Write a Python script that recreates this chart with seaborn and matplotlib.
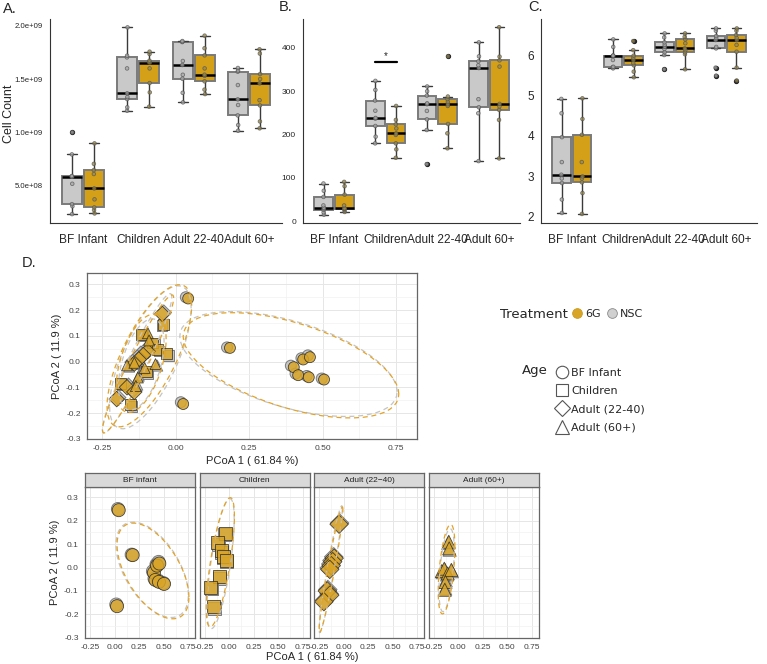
import numpy as np
import pandas as pd
import matplotlib
matplotlib.use('Agg')
import matplotlib.pyplot as plt
import seaborn as sns
from matplotlib.lines import Line2D
from matplotlib.ticker import FixedLocator, MultipleLocator

W, H = 767, 664

ages = ['BF Infant', 'Children', 'Adult 22-40', 'Adult 60+']
treatments = ['NSC', '6G']

# panel A: cell count (x 1e9), one list per age group
cell_nsc = [[0.226, 0.30, 0.320, 0.512, 0.578, 0.58, 0.585, 0.789, 0.997],
            [1.201, 1.233, 1.311, 1.33, 1.365, 1.60, 1.704, 1.72, 1.987],
            [1.280, 1.37, 1.503, 1.54, 1.632, 1.67, 1.849, 1.85, 1.858],
            [1.012, 1.066, 1.157, 1.255, 1.308, 1.443, 1.569, 1.58, 1.604]]
cell_6g = [[0.232, 0.264, 0.289, 0.365, 0.468, 0.604, 0.641, 0.70, 0.893],
           [1.239, 1.374, 1.462, 1.60, 1.654, 1.66, 1.673, 1.736, 1.758],
           [1.358, 1.40, 1.478, 1.53, 1.541, 1.60, 1.723, 1.79, 1.909],
           [1.035, 1.10, 1.251, 1.30, 1.459, 1.50, 1.547, 1.74, 1.78]]

# panel B
rich_nsc = [[14.7, 20, 26.3, 29, 31, 36, 55.7, 70, 86.7],
            [179.5, 195, 219.7, 236.8, 238.3, 255, 278.5, 303, 324],
            [131.5, 210.4, 235, 254.5, 270, 272, 290, 300, 311],
            [138.5, 249, 263, 281.6, 353.6, 360, 369, 380.7, 413]]
rich_6g = [[20.9, 25, 27.9, 28.5, 29.4, 36, 61, 80.5, 90.5],
           [146.2, 165.6, 179.5, 199, 202.7, 214, 223.6, 233.7, 266],
           [168, 202.7, 224.4, 266, 270, 275, 281.6, 287.8, 380.7],
           [144.7, 233.7, 256.9, 265, 270.8, 357, 371.4, 380, 448]]
sig_group = 'Children'
sig_y = 367

# panel C
div_nsc = [[2.098, 2.43, 2.838, 2.95, 3.043, 3.355, 3.971, 4.56, 4.916],
           [5.67, 5.70, 5.71, 5.877, 5.984, 5.984, 5.984, 6.2, 6.386],
           [5.647, 6.0, 6.066, 6.15, 6.205, 6.25, 6.312, 6.435, 6.534],
           [5.49, 5.688, 6.164, 6.2, 6.37, 6.42, 6.47, 6.6, 6.657]]
div_6g = [[2.074, 2.59, 2.854, 2.95, 3.0, 3.355, 4.029, 4.42, 4.93],
          [5.45, 5.59, 5.745, 5.8, 5.877, 5.93, 5.984, 6.12, 6.345],
          [5.647, 6.02, 6.066, 6.12, 6.164, 6.29, 6.386, 6.45, 6.534],
          [5.37, 5.688, 6.082, 6.25, 6.37, 6.42, 6.493, 6.6, 6.657]]

# panel D: PCoA coordinates
pc_groups = ['BF infant', 'Children', 'Adult (22\u221240)', 'Adult (60+)']
pc_6g = [[(0.043, 0.245), (0.185, 0.053), (0.402, -0.022), (0.434, 0.008), (0.457, 0.017),
          (0.417, -0.053), (0.453, -0.061), (0.505, -0.070), (0.026, -0.165)],
         [(-0.040, 0.145), (-0.117, 0.106), (-0.078, 0.072), (-0.061, 0.048), (-0.030, 0.030),
          (-0.098, -0.037), (-0.186, -0.085), (-0.154, -0.168)],
         [(-0.045, 0.185), (-0.095, 0.040), (-0.110, 0.025), (-0.125, 0.008), (-0.140, -0.008),
          (-0.165, -0.100), (-0.140, -0.118), (-0.200, -0.146)],
         [(-0.094, 0.110), (-0.090, 0.082), (-0.165, -0.015), (-0.140, -0.005), (-0.105, -0.025),
          (-0.068, -0.010), (-0.128, -0.062), (-0.135, -0.095)]]
pc_nsc = [[(0.035, 0.250), (0.175, 0.055), (0.392, -0.016), (0.428, 0.013), (0.450, 0.024),
           (0.408, -0.047), (0.446, -0.056), (0.497, -0.066), (0.018, -0.158)],
          [(-0.046, 0.140), (-0.112, 0.100), (-0.072, 0.066), (-0.056, 0.041), (-0.025, 0.024),
           (-0.094, -0.045), (-0.180, -0.090), (-0.148, -0.174)],
          [(-0.040, 0.190), (-0.100, 0.046), (-0.118, 0.030), (-0.130, 0.015), (-0.146, -0.002),
           (-0.160, -0.094), (-0.146, -0.112), (-0.195, -0.140)],
          [(-0.100, 0.105), (-0.085, 0.076), (-0.158, -0.020), (-0.133, -0.010), (-0.112, -0.030),
           (-0.062, -0.016), (-0.125, -0.055), (-0.130, -0.090)]]
legend_ages = ['BF Infant', 'Children', 'Adult (22-40)', 'Adult (60+)']

GOLD = '#D4A017'
GREY = '#C9C9C9'
PT_GOLD = '#D9A527'
PT_GREY = '#BDBDBD'
EL_GOLD = '#E3A32A'
EL_GREY = '#C4C4C4'
markers = {g: m for g, m in zip(pc_groups, ['o', 's', 'D', '^'])}

sns.set_style('white')
plt.rcParams['font.family'] = ['Liberation Sans', 'DejaVu Sans']


def px_axes(fig, l, t, r, b):
    return fig.add_axes([l / W, 1 - b / H, (r - l) / W, (b - t) / H])


def long_box(nsc, g6, scale=1.0):
    rows = []
    for trt, groups in (('NSC', nsc), ('6G', g6)):
        for age, vals in zip(ages, groups):
            for v in vals:
                rows.append((age, trt, v * scale))
    return pd.DataFrame(rows, columns=['Age', 'Treatment', 'value'])


def trob(xy, nu=5, maxit=25, tol=0.01):
    # robust t covariance (like MASS::cov.trob)
    n, p = xy.shape
    loc = xy.mean(axis=0)
    w = np.ones(n)
    for _ in range(maxit):
        w0 = w
        X = xy - loc
        S = (X * (w / w.sum())[:, None]).T @ X
        Q = np.einsum('ij,jk,ik->i', X, np.linalg.inv(S), X)
        w = (nu + p) / (nu + Q)
        loc = (w[:, None] * xy).sum(axis=0) / w.sum()
        if np.all(np.abs(w - w0) < tol):
            break
    cov = (X * w[:, None]).T @ X / n
    return loc, cov


def ellipse(xy, level=0.95, segments=60):
    n = len(xy)
    center, cov = trob(xy)
    dfd = n - 1
    fq = dfd / 2 * ((1 - level) ** (-2 / dfd) - 1)
    radius = np.sqrt(2 * fq)
    ang = np.linspace(0, 2 * np.pi, segments + 1)
    circ = np.column_stack([np.cos(ang), np.sin(ang)])
    L = np.linalg.cholesky(cov)
    return center + radius * circ @ L.T


def box_panel(ax, df):
    sns.boxplot(data=df, x='Age', y='value', hue='Treatment', order=ages,
                hue_order=treatments, palette={'NSC': GREY, '6G': GOLD}, saturation=1,
                width=0.8, gap=0.1, linewidth=1.0, linecolor='#3a3a3a',
                boxprops=dict(edgecolor='#7a7a7a', linewidth=1.4),
                medianprops=dict(color='black', linewidth=1.8),
                flierprops=dict(marker='o', markersize=2.8, markerfacecolor='#222222',
                                markeredgecolor='#222222'),
                legend=False, ax=ax)
    sns.stripplot(data=df, x='Age', y='value', hue='Treatment', order=ages,
                  hue_order=treatments, palette={'NSC': '#a8a8a8', '6G': '#9a8a4a'},
                  dodge=True, jitter=0.015, size=2.6, linewidth=0.6, edgecolor='#555555',
                  alpha=0.75, legend=False, ax=ax)
    ax.set_xlabel('')
    ax.set_ylabel('')
    ax.set_xlim(-0.6, 3.6)
    for s in ('top', 'right'):
        ax.spines[s].set_visible(False)
    for s in ('left', 'bottom'):
        ax.spines[s].set_color('#333333')
        ax.spines[s].set_linewidth(0.8)
    ax.tick_params(axis='x', labelsize=8.6, length=3, width=0.6, color='#333333', pad=5)
    ax.tick_params(axis='y', length=3, width=0.6, color='#333333', pad=2)


fig = plt.figure(figsize=(W / 100, H / 100), dpi=100)

# ---- A
axA = px_axes(fig, 50, 19, 282, 223)
box_panel(axA, long_box(cell_nsc, cell_6g, 1e9))
axA.set_ylim(1.42e8, 2.066e9)
axA.yaxis.set_major_locator(FixedLocator([5e8, 1e9, 1.5e9, 2e9]))
axA.set_yticklabels(['5.0e+08', '1.0e+09', '1.5e+09', '2.0e+09'])
axA.tick_params(axis='y', labelsize=5.6)
fig.text(9 / W, 1 - 114 / H, 'Cell Count', rotation=90, fontsize=9, ha='center', va='center')

# ---- B
axB = px_axes(fig, 303, 19, 520, 223)
box_panel(axB, long_box(rich_nsc, rich_6g))
axB.set_ylim(-4.6, 467)
axB.yaxis.set_major_locator(FixedLocator([0, 100, 200, 300, 400]))
axB.tick_params(axis='y', labelsize=6)
i = ages.index(sig_group)
axB.plot([i - 0.21, i + 0.21], [sig_y, sig_y], color='black', lw=1.6)
axB.text(i, sig_y + 3, '*', ha='center', va='bottom', fontsize=7)

# ---- C
axC = px_axes(fig, 541, 19, 757, 223)
box_panel(axC, long_box(div_nsc, div_6g))
axC.set_ylim(1.85, 6.89)
axC.yaxis.set_major_locator(FixedLocator([2, 3, 4, 5, 6]))
axC.tick_params(axis='y', labelsize=8.5)

for lab, x, y in (('A.', 3, 9), ('B.', 279, 7), ('C.', 528, 7), ('D.', 22, 263)):
    fig.text(x / W, 1 - y / H, lab, fontsize=10.5, va='center', ha='left')

# ---- D data
rows = []
for trt, sets in (('NSC', pc_nsc), ('6G', pc_6g)):
    for g, pts in zip(pc_groups, sets):
        for x, y in pts:
            rows.append((g, trt, x, y))
pc = pd.DataFrame(rows, columns=['Age', 'Treatment', 'PC1', 'PC2'])
xlim = (-0.301, 0.821)
ylim = (-0.301, 0.344)


def pcoa_panel(ax, data, size):
    ax.set_axisbelow(True)
    for trt, col in (('NSC', EL_GREY), ('6G', EL_GOLD)):
        for g in data['Age'].unique():
            sub = data[(data['Treatment'] == trt) & (data['Age'] == g)]
            e = ellipse(sub[['PC1', 'PC2']].to_numpy())
            ax.plot(e[:, 0], e[:, 1], color=col, lw=0.9, ls=(0, (4, 3)))
    sns.scatterplot(data=data[data['Treatment'] == 'NSC'], x='PC1', y='PC2', style='Age',
                    markers=markers, color=PT_GREY, edgecolor='#6a6a6a', linewidth=0.7,
                    s=size, alpha=0.85, legend=False, ax=ax)
    sns.scatterplot(data=data[data['Treatment'] == '6G'], x='PC1', y='PC2', style='Age',
                    markers=markers, color=PT_GOLD, edgecolor='#2a2a2a', linewidth=0.6,
                    s=size, alpha=0.85, legend=False, ax=ax)
    ax.set_xlim(*xlim)
    ax.set_ylim(*ylim)
    ax.set_xlabel('')
    ax.set_ylabel('')
    ax.xaxis.set_major_locator(MultipleLocator(0.25))
    ax.xaxis.set_minor_locator(MultipleLocator(0.125))
    ax.yaxis.set_major_locator(MultipleLocator(0.1))
    ax.yaxis.set_minor_locator(MultipleLocator(0.05))
    ax.grid(which='major', color='#E6E6E6', lw=0.7)
    ax.grid(which='minor', color='#F2F2F2', lw=0.5)
    for s in ax.spines.values():
        s.set_color('#666666')
        s.set_linewidth(0.9)
    ax.tick_params(which='major', length=2.5, width=0.6, color='#333333', labelsize=6,
                   labelcolor='#444444', pad=2)
    ax.tick_params(which='minor', length=0)
    ax.xaxis.set_major_formatter(plt.FuncFormatter(lambda v, p: '%.2f' % v))
    ax.yaxis.set_major_formatter(plt.FuncFormatter(lambda v, p: '%.1f' % v))


axD = px_axes(fig, 87, 273, 417, 439)
axD.set_facecolor('white')
pcoa_panel(axD, pc, 62)
axD.set_xlabel('PCoA 1 ( 61.84 %)', fontsize=8, labelpad=3)
axD.set_ylabel('PCoA 2 ( 11.9 %)', fontsize=8, labelpad=3)

# ---- facets
left = 85
for k, g in enumerate(pc_groups):
    l = left + k * 114.5
    ax = px_axes(fig, l, 487, l + 110, 638)
    pcoa_panel(ax, pc[pc['Age'] == g], 88)
    ax.tick_params(axis='x', labelsize=6)
    if k > 0:
        ax.tick_params(axis='y', labelleft=False)
    else:
        ax.set_ylabel('PCoA 2 ( 11.9 %)', fontsize=8, labelpad=3)
    st = px_axes(fig, l, 473, l + 110, 487)
    st.set_facecolor('#D9D9D9')
    st.set_xticks([])
    st.set_yticks([])
    for s in st.spines.values():
        s.set_color('#666666')
        s.set_linewidth(0.9)
    st.text(0.5, 0.5, g, ha='center', va='center', fontsize=6, color='#222222',
            transform=st.transAxes)
fig.text(312 / W, 1 - 657 / H, 'PCoA 1 ( 61.84 %)', ha='center', va='center', fontsize=8)

# ---- legends
fig.text(500 / W, 1 - 314 / H, 'Treatment', fontsize=9.5, va='center', family='DejaVu Sans')
trt_handles = [Line2D([], [], ls='', marker='o', ms=7, mfc=PT_GOLD, mec='#C89A20', mew=0.6),
               Line2D([], [], ls='', marker='o', ms=7, mfc='#D0D0D0', mec='#8a8a8a', mew=0.6)]
fig.legend(trt_handles, ['6G', 'NSC'], ncol=2, loc='center left',
           bbox_to_anchor=(566 / W, 1 - 314 / H), frameon=False, borderpad=0,
           handlelength=1.0, handletextpad=0.2, columnspacing=0.5,
           prop={'family': 'DejaVu Sans', 'size': 8})
fig.text(522 / W, 1 - 371 / H, 'Age', fontsize=9.5, va='center', family='DejaVu Sans')
age_handles = [Line2D([], [], ls='', marker=m, ms=ms, mfc='white', mec='#555555', mew=0.8)
               for m, ms in zip(['o', 's', 'D', '^'], [9, 8.5, 8, 10])]
fig.legend(age_handles, legend_ages, ncol=1, loc='upper left',
           bbox_to_anchor=(551 / W, 1 - 362 / H), frameon=False, borderpad=0,
           handlelength=1.0, handletextpad=0.3, labelspacing=0.75,
           prop={'family': 'DejaVu Sans', 'size': 8})

fig.savefig('out.png', dpi=100)
